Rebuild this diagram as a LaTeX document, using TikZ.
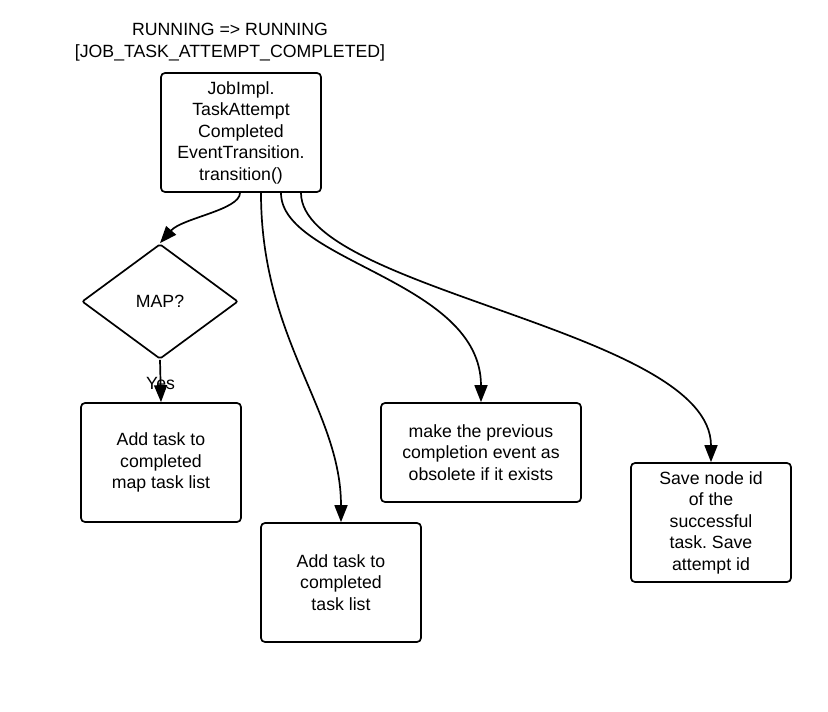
\documentclass[tikz,border=0pt]{standalone}
\usepackage{fontspec}
\setmainfont{Liberation Sans}
\usetikzlibrary{shapes.geometric,arrows.meta}
\frenchspacing

\begin{document}
\begin{tikzpicture}[x=1pt, y=-1pt, line width=1.7pt,
    every node/.style={font=\fontsize{17.7}{21.5}\selectfont, align=center},
    stepbox/.style={draw, rounded corners=4pt, minimum width=160pt, minimum height=119pt, inner sep=2pt},
    choice/.style={draw, diamond, rounded corners=2pt, minimum width=156pt, minimum height=115pt, aspect=1.36, inner sep=0pt},
    flow/.style={-{Triangle[length=17pt, width=13pt]}}]
    \useasboundingbox (0,0) rectangle (828,712);
    % Nodes
    \node (title) at (230,42) {RUNNING => RUNNING\\{}[JOB\_TASK\_ATTEMPT\_COMPLETED]};
    \node[stepbox] (trans) at (241,132.5) {JobImpl.\\TaskAttempt\\Completed\\EventTransition.\\transition()};
    \node[choice] (map) at (160,301.5) {MAP?};
    \node[stepbox] (maplist) at (161,462.5) {Add task to\\completed\\map task list};
    \node[stepbox] (tasklist) at (341,582.5) {Add task to\\completed\\task list};
    \node[stepbox, minimum width=200pt, minimum height=99pt] (obsolete) at (481,452.5) {make the previous\\completion event as\\obsolete if it exists};
    \node[stepbox] (save) at (711,522.5) {Save node id\\of the\\successful\\task. Save\\attempt id};
    % Connectors
    \draw[flow] ([xshift=-1pt]trans.south) .. controls (240,210) and (182,218) .. (map.north);
    \draw[flow] (map.south) -- (maplist.north) node[pos=0.56] {Yes};
    \draw[flow] ([xshift=20pt]trans.south) .. controls (261,340) and (341,410) .. (tasklist.north);
    \draw[flow] ([xshift=40pt]trans.south) .. controls (281,262) and (481,280) .. (obsolete.north);
    \draw[flow] ([xshift=60pt]trans.south) .. controls (301,290) and (711,330) .. (save.north);
\end{tikzpicture}
\end{document}
